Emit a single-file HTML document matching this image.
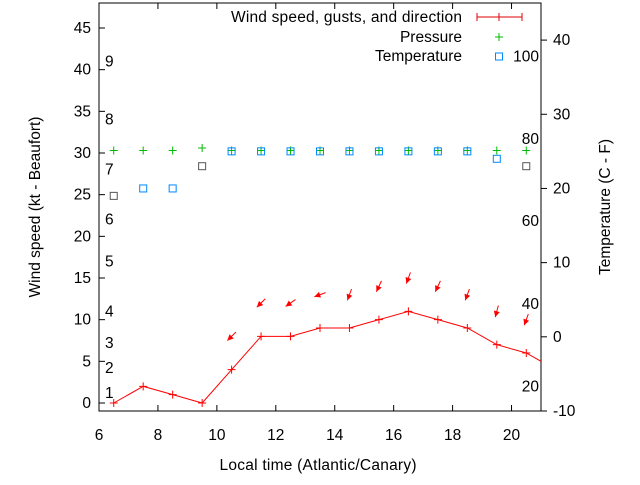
<!DOCTYPE html>
<html><head><meta charset="utf-8"><style>
body{margin:0;background:#fff}
svg{font-family:"Liberation Sans",sans-serif;font-size:15.5px}
</style></head><body>
<svg id="c" width="640" height="480" xmlns="http://www.w3.org/2000/svg">
<rect width="640" height="480" fill="#fff"/>
<g id="g"></g>
</svg>
<script>
const times=[6.5,7.5,8.5,9.5,10.5,11.5,12.5,13.5,14.5,15.5,16.5,17.5,18.5,19.5,20.5,21];
const windSpeed=[0,2,1,0,4,8,8,9,9,10,11,10,9,7,6,5];
const arrowTimes=[10.5,11.5,12.5,13.5,14.5,15.5,16.5,17.5,18.5,19.5,20.5];
const arrowLevels=[8,12,12,13,13,14,15,14,13,11,10];
const arrowDirs=[45,45,55,70,20,25,20,25,20,15,20];
const pressTimes=[6.5,7.5,8.5,9.5,10.5,11.5,12.5,13.5,14.5,15.5,16.5,17.5,18.5,19.5,20.5];
const pressure=[30.3,30.3,30.3,30.6,30.3,30.3,30.3,30.3,30.3,30.3,30.3,30.3,30.3,30.3,30.3];
const tempTimes=[6.5,7.5,8.5,9.5,10.5,11.5,12.5,13.5,14.5,15.5,16.5,17.5,18.5,19.5,20.5];
const temperature=[19,20,20,23,25,25,25,25,25,25,25,25,25,24,23];
const tempColors=["#555","#08f","#08f","#555","#08f","#08f","#08f","#08f","#08f","#08f","#08f","#08f","#08f","#08f","#555"];
const xTicks=[6,8,10,12,14,16,18,20];
const yTicks=[0,5,10,15,20,25,30,35,40,45];
const tTicks=[-10,0,10,20,30,40];
const beaufortLabels=["1","2","3","4","5","6","7","8","9"];
const beaufortY=[1.2,4.2,7.2,11,17,22,28,34,41];
const fLabels=["100","80","60","40","20"];
const fValues=[37.8,26.7,15.6,4.4,-6.7];

const L=99,R=541,T=3,B=411;
const X=v=>L+(v-6)/(21-6)*(R-L);
const Y=v=>B-(v+0.96)/(48+0.96)*(B-T);
const TY=v=>B-(v+10)/55*(B-T);
const g=document.getElementById('g');
const NS='http://www.w3.org/2000/svg';
function mk(tag,at,parent){const e=document.createElementNS(NS,tag);for(const k in at)e.setAttribute(k,at[k]);(parent||g).appendChild(e);return e;}
function txt(s,x,y,anchor,name){const e=mk('text',{x:x,y:y,'text-anchor':anchor||'middle',fill:'#000'});e.textContent=s;


return e;}

const frame=mk('rect',{x:L,y:T,width:R-L,height:B-T,fill:'none',stroke:'#000','stroke-width':1});


xTicks.forEach(v=>{
  mk('line',{x1:X(v),x2:X(v),y1:B,y2:B-6,stroke:'#000'});
  mk('line',{x1:X(v),x2:X(v),y1:T,y2:T+6,stroke:'#000'});
  txt(String(v),X(v),440,'middle','x-tick-label');
});
yTicks.forEach(v=>{
  mk('line',{x1:L,x2:L+6,y1:Y(v),y2:Y(v),stroke:'#000'});
  txt(String(v),L-8,Y(v)+5,'end','y-tick-label');
});
tTicks.forEach(v=>{
  mk('line',{x1:R,x2:R+6,y1:TY(v),y2:TY(v),stroke:'#000'});
  txt(String(v),R+12,TY(v)+5,'start','temp-tick-label');
});
beaufortLabels.forEach((s,i)=>txt(s,105,Y(beaufortY[i])+5,'start','beaufort-label'));
fLabels.forEach((s,i)=>txt(s,539,TY(fValues[i])+5,'end','fahrenheit-label'));

const pts=times.map((t,i)=>X(t)+','+Y(windSpeed[i])).join(' ');
const wl=mk('polyline',{points:pts,fill:'none',stroke:'#f00','stroke-width':1});


times.forEach((t,i)=>{if(t>20.9)return;const x=X(t),y=Y(windSpeed[i]);
  const p=mk('path',{d:`M${x-4},${y}H${x+4}M${x},${y-4}V${y+4}`,stroke:'#f00'});
  
  });
arrowTimes.forEach((t,i)=>{const cx=X(t),cy=Y(arrowLevels[i]);const a=arrowDirs[i]*Math.PI/180;
  const dx=Math.sin(a)*12,dy=Math.cos(a)*12;
  const hx=cx-dx/2,hy=cy+dy/2,tx=cx+dx/2,ty=cy-dy/2;
  const ux=(tx-hx)/12,uy=(ty-hy)/12;const px=-uy,py=ux;
  const gr=mk('g',{});
  
  
  mk('line',{x1:tx,y1:ty,x2:hx,y2:hy,stroke:'#f00'},gr);
  mk('polygon',{points:`${hx},${hy} ${hx+ux*6+px*3},${hy+uy*6+py*3} ${hx+ux*6-px*3},${hy+uy*6-py*3}`,fill:'#f00'},gr);
});
pressTimes.forEach((t,i)=>{const x=X(t),y=Y(pressure[i]);
  const p=mk('path',{d:`M${x-4},${y}H${x+4}M${x},${y-4}V${y+4}`,stroke:'#0b0'});
  
  });
tempTimes.forEach((t,i)=>{const x=X(t),y=TY(temperature[i]);
  const r=mk('rect',{x:x-3.5,y:y-3.5,width:7,height:7,fill:'none',stroke:tempColors[i]});
  
  });

const lw=txt('Wind speed, gusts, and direction',462,22,'end','legend-wind-label');
lw.setAttribute('textLength','231');
mk('path',{d:'M477,17H522M477,13V21M522,13V21M499,13V21',stroke:'#d00'});
txt('Pressure',462,42,'end','legend-pressure-label');
mk('path',{d:'M495,37H503M499,33V41',stroke:'#0b0'});
txt('Temperature',462,61,'end','legend-temperature-label');
mk('rect',{x:495.5,y:53,width:7,height:7,fill:'none',stroke:'#08f'});

const xt=txt('Local time (Atlantic/Canary)',318,470,'middle','x-axis-title');
xt.setAttribute('textLength','197');
const yl=txt('Wind speed (kt - Beaufort)',0,0,'middle','y-axis-title');
yl.setAttribute('transform','translate(40,207) rotate(-90)');
const tl=txt('Temperature (C - F)',0,0,'middle','temp-axis-title');
tl.setAttribute('transform','translate(610,207) rotate(-90)');
</script>
</body></html>
